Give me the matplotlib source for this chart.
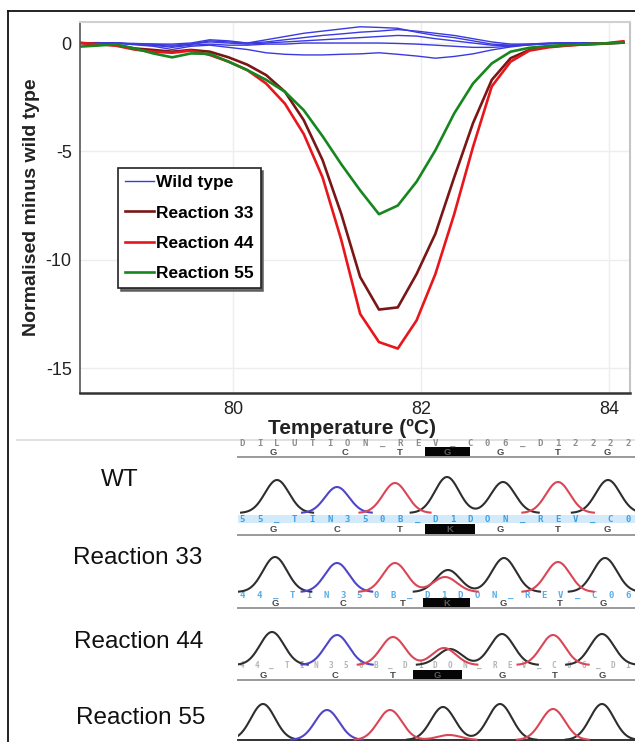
import numpy as np
import matplotlib
matplotlib.use("Agg")
import matplotlib.pyplot as plt
from matplotlib.lines import Line2D
from matplotlib.patches import Rectangle

plt.rcParams['font.family'] = ['Liberation Sans', 'DejaVu Sans']

W, H = 635, 742

# ---------------- melt-curve difference data ----------------
temperature = [78.35, 78.55, 78.75, 78.95, 79.15, 79.35, 79.55, 79.75, 79.95, 80.15,
               80.35, 80.55, 80.75, 80.95, 81.15, 81.35, 81.55, 81.75, 81.95, 82.15,
               82.35, 82.55, 82.75, 82.95, 83.15, 83.35, 83.55, 83.75, 83.95, 84.15]

wild_type_a = [0.0, 0.02, 0.0, -0.05, -0.1, -0.15, -0.05, 0.1, 0.05, 0.0, 0.15, 0.3, 0.45, 0.55, 0.65,
               0.75, 0.72, 0.68, 0.5, 0.35, 0.25, 0.1, -0.05, -0.1, -0.05, 0.0, 0.0, 0.0, 0.0, 0.0]
wild_type_b = [0.0, 0.0, 0.0, -0.05, -0.05, -0.05, 0.0, 0.15, 0.1, 0.0, 0.05, 0.15, 0.25, 0.35, 0.42,
               0.5, 0.55, 0.62, 0.55, 0.45, 0.35, 0.2, 0.05, -0.05, -0.05, -0.02, 0.0, 0.0, 0.0, 0.02]
wild_type_c = [0.0, 0.0, 0.0, -0.02, -0.05, -0.1, -0.05, 0.05, 0.0, -0.05, 0.0, 0.05, 0.1, 0.15, 0.2,
               0.25, 0.3, 0.35, 0.32, 0.2, 0.1, 0.0, -0.1, -0.12, -0.08, -0.03, 0.0, 0.0, 0.0, 0.0]
wild_type_d = [0.0, 0.0, 0.0, -0.05, -0.1, -0.2, -0.1, -0.05, -0.1, -0.1, -0.05, -0.05, 0.0, 0.0, 0.0,
               0.0, 0.0, -0.02, -0.05, -0.1, -0.15, -0.2, -0.2, -0.15, -0.08, -0.03, 0.0, 0.0, 0.0, 0.0]
wild_type_e = [0.0, 0.0, 0.0, -0.08, -0.15, -0.3, -0.15, -0.1, -0.2, -0.3, -0.45, -0.52, -0.55, -0.55, -0.52,
               -0.5, -0.45, -0.52, -0.6, -0.7, -0.62, -0.5, -0.32, -0.18, -0.08, -0.03, 0.0, 0.0, 0.0, 0.0]

reaction_33 = [0.0, -0.05, -0.1, -0.25, -0.32, -0.4, -0.32, -0.4, -0.66, -1.0, -1.48, -2.25, -3.56, -5.4, -7.9,
               -10.8, -12.3, -12.2, -10.66, -8.8, -6.2, -3.7, -1.7, -0.7, -0.32, -0.17, -0.1, -0.06, -0.03, 0.02]
reaction_44 = [0.02, -0.05, -0.12, -0.3, -0.4, -0.45, -0.35, -0.55, -0.86, -1.25, -1.87, -2.8, -4.2, -6.2, -9.1,
               -12.5, -13.8, -14.1, -12.8, -10.66, -7.9, -4.8, -2.0, -0.86, -0.35, -0.2, -0.12, -0.06, -0.02, 0.08]
reaction_55 = [-0.17, -0.12, -0.06, -0.25, -0.48, -0.66, -0.48, -0.5, -0.86, -1.25, -1.7, -2.25, -3.1, -4.3, -5.6,
               -6.8, -7.9, -7.5, -6.4, -4.95, -3.25, -1.87, -0.94, -0.4, -0.22, -0.14, -0.09, -0.05, -0.02, 0.02]

legend_labels = ['Wild type', 'Reaction 33', 'Reaction 44', 'Reaction 55']
x_ticks = [80, 82, 84]
y_ticks = [0, -5, -10, -15]
y_tick_labels = ['0', '-5', '-10', '-15']

# ---------------- sequencing trace data (scan position, base, intensity) ----------------
row_names = ['WT', 'Reaction 33', 'Reaction 44', 'Reaction 55']
wt_scan = [277, 337, 395, 447, 503, 558, 608]
wt_base = ['G', 'C', 'T', 'G', 'G', 'T', 'G']
wt_height = [33, 26, 30, 36, 31, 31, 33]

r33_scan = [275, 337, 395, 448, 445, 504, 558, 605]
r33_base = ['G', 'C', 'T', 'G', 'T', 'G', 'T', 'G']
r33_height = [35, 29, 29, 22, 15, 34, 30, 34]

r44_scan = [272, 337, 393, 450, 444, 502, 553, 602]
r44_base = ['G', 'C', 'T', 'G', 'T', 'G', 'T', 'G']
r44_height = [33, 30, 28, 16, 17, 31, 30, 31]

r55_scan = [263, 327, 390, 443, 449, 500, 553, 602]
r55_base = ['G', 'C', 'T', 'G', 'T', 'G', 'T', 'G']
r55_height = [36, 30, 30, 33, 5, 36, 31, 36]

# base calls shown above each trace
calls_wt = ['G', 'C', 'T', 'G', 'G', 'T', 'G']
calls_r33 = ['G', 'C', 'T', 'K', 'G', 'T', 'G']
calls_r44 = ['G', 'C', 'T', 'K', 'G', 'T', 'G']
calls_r55 = ['G', 'C', 'T', 'G', 'G', 'T', 'G']
calls_scan_wt = [273, 345, 400, 447, 500, 558, 607]
calls_scan_r33 = [273, 337, 400, 450, 500, 558, 607]
calls_scan_r44 = [275, 343, 403, 447, 503, 560, 603]
calls_scan_r55 = [263, 335, 393, 437, 502, 555, 602]

base_colors = {'G': '#2e2e2e', 'C': '#4f45c8', 'T': '#da4655', 'A': '#2a9a2a'}

fig = plt.figure(figsize=(W / 100, H / 100), dpi=100)


def px_rect(x0, y0, x1, y1):
    return [x0 / W, 1 - y1 / H, (x1 - x0) / W, (y1 - y0) / H]


# overlay axes in pixel layout coordinates (borders, labels, annotation bands)
ov = fig.add_axes([0, 0, 1, 1])
ov.set_xlim(0, W)
ov.set_ylim(H, 0)
ov.axis('off')

ov.plot([8, W], [11, 11], color='#111', lw=1.3)
ov.plot([8, 8], [11, H], color='#111', lw=1.3)
ov.plot([17, W], [440, 440], color='#dcdcdc', lw=1.2)

# ---------------- main plot ----------------
ax = fig.add_axes(px_rect(80, 22, 630, 393))
blue = '#3a3ae0'
for ys in [wild_type_a, wild_type_b, wild_type_c, wild_type_d, wild_type_e]:
    ax.plot(temperature, ys, color=blue, lw=1.0)
c33, c44, c55 = '#7a1616', '#e8161c', '#16861f'
ax.plot(temperature, reaction_33, color=c33, lw=1.9)
ax.plot(temperature, reaction_44, color=c44, lw=1.9)
ax.plot(temperature, reaction_55, color=c55, lw=1.9)

ax.set_xlim(78.37, 84.22)
ax.set_ylim(-16.15, 0.97)
ax.set_xticks(x_ticks)
ax.set_yticks(y_ticks)
ax.set_yticklabels(y_tick_labels)
ax.tick_params(length=0, labelsize=13, colors='#222', pad=6)
ax.grid(color='#ededed', lw=1)
ax.set_axisbelow(True)
ax.spines['left'].set_color('#555')
ax.spines['left'].set_linewidth(1.2)
ax.spines['bottom'].set_color('#333')
ax.spines['bottom'].set_linewidth(1.8)
ax.spines['top'].set_color('#d0d0d0')
ax.spines['top'].set_linewidth(1.5)
ax.spines['right'].set_color('#c4c4c4')
ax.spines['right'].set_linewidth(1.5)

handles = [Line2D([], [], color=blue, lw=1.0), Line2D([], [], color=c33, lw=1.9),
           Line2D([], [], color=c44, lw=1.9), Line2D([], [], color=c55, lw=1.9)]
leg = ax.legend(handles, legend_labels, loc='upper left', bbox_to_anchor=(0.069, 0.6065),
                borderaxespad=0, frameon=True, fancybox=False,
                shadow={'facecolor': '#555', 'edgecolor': '#555', 'alpha': 0.85},
                edgecolor='#222', framealpha=1, prop=dict(weight='bold', size=12.5),
                handlelength=1.7, handletextpad=0.1, borderpad=0.4, labelspacing=0.88)
leg.get_frame().set_linewidth(1.2)

fig.text(352 / W, 1 - 428 / H, 'Temperature (ºC)', ha='center', va='center',
         fontsize=15, fontweight='bold', color='#222')
fig.text(32 / W, 1 - 207 / H, 'Normalised minus wild type', ha='center', va='center',
         rotation=90, fontsize=14, fontweight='bold', color='#222')

# ---------------- annotation bands ----------------
mono = 'DejaVu Sans Mono'


def spaced(s, x0, x1, y, color, size=6.5):
    xs = np.linspace(x0, x1, len(s))
    for c, x in zip(s, xs):
        ov.text(x, y, c, ha='center', va='center', color=color, fontsize=size,
                fontweight='bold', family=mono)


# band A (above WT)
spaced('DILUTION_REV_C06_D12222', 242, 628, 443, '#8c8c8c')
# band B (above Reaction 33)
ov.add_patch(Rectangle((238, 515), W - 238, 8, facecolor='#d2eafa', edgecolor='none'))
spaced('55_TIN350B_D1DON_REV_C0', 242, 628, 519, '#3a9fe6')
# band C (above Reaction 44)
spaced('44_TIN350B_D1DON_REV_C06', 242, 628, 595, '#55ade8')
# band D (above Reaction 55)
spaced('44_TIN350B_D1DON_REV_C06_D1', 242, 628, 666, '#b4b4b4', size=5.5)

bands = [(calls_wt, calls_scan_wt, 452, 457, (425, 470)),
         (calls_r33, calls_scan_r33, 529, 535, (425, 475)),
         (calls_r44, calls_scan_r44, 603, 608, (423, 470)),
         (calls_r55, calls_scan_r55, 675, 680, (413, 462))]
for calls, scans, ly, uy, (bx0, bx1) in bands:
    ov.plot([238, W], [uy, uy], color='#9a9a9a', lw=1.4)
    ov.add_patch(Rectangle((bx0, ly - 5), bx1 - bx0, 10, facecolor='#050505', edgecolor='none'))
    for i, (c, x) in enumerate(zip(calls, scans)):
        col = '#4a4a4a' if i != 3 else '#5a5a5a'
        ov.text(x, ly + 0.5, c, ha='center', va='center', fontsize=6.8, fontweight='bold', color=col)

ov.plot([238, W], [740, 740], color='#222', lw=1.3)

# row labels
label_pos = [(120, 480), (138, 558), (139, 642), (141, 718)]
for name, (x, y) in zip(row_names, label_pos):
    ov.text(x, y, name, ha='center', va='center', fontsize=17.5, color='#111')

# ---------------- trace rows ----------------
rows = [(wt_scan, wt_base, wt_height, 513),
        (r33_scan, r33_base, r33_height, 592),
        (r44_scan, r44_base, r44_height, 665),
        (r55_scan, r55_base, r55_height, 740)]
scan = np.linspace(238, W, 900)
sigma = 12.0
for scans, bases, heights, baseline in rows:
    rax = fig.add_axes(px_rect(238, baseline - 41, W, baseline + 1))
    rax.set_xlim(238, W)
    rax.set_ylim(-1, 41)
    rax.axis('off')
    rax.patch.set_alpha(0)
    for b in ['G', 'C', 'T']:
        sig = np.zeros_like(scan)
        for s, bb, h in zip(scans, bases, heights):
            if bb == b:
                sig += h * np.exp(-0.5 * ((scan - s) / sigma) ** 2)
        sig[sig < 0.35] = np.nan
        rax.plot(scan, sig, color=base_colors[b], lw=1.5)

fig.savefig('out.png', dpi=100)
